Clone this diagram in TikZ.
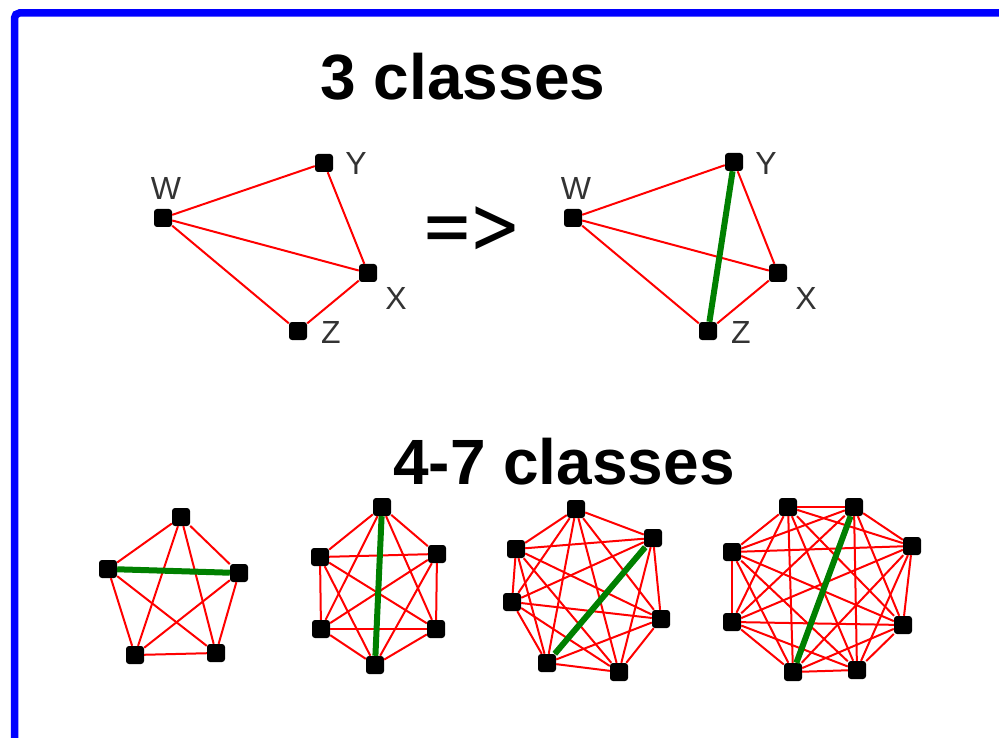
\documentclass[tikz,border=0pt]{standalone}
\usepackage{fontspec}
\setmainfont{Liberation Sans}
\newfontfamily\arrowfont{DejaVu Sans}
\usetikzlibrary{positioning}
\definecolor{edgered}{RGB}{255,0,0}
\definecolor{pairgreen}{RGB}{0,128,0}
\definecolor{frameblue}{RGB}{0,0,255}
\definecolor{labelgray}{RGB}{51,51,51}

\begin{document}
\begin{tikzpicture}[x=1pt, y=-1pt, main/.style = {rectangle, rounded corners=3pt, fill=black, minimum size=18pt, inner sep=0pt}, lbl/.style = {text=labelgray, font=\fontsize{32}{36}\selectfont, inner sep=0pt}, title/.style = {font=\fontsize{64}{70}\selectfont\bfseries, inner sep=0pt}, every edge/.append style={draw=edgered, line width=2pt}, pair/.style={draw=pairgreen, line width=6pt}]

\clip (0,0) rectangle (999,738);
\useasboundingbox (0,0) rectangle (999,738);
\draw[frameblue, line width=7.5pt, rounded corners=5pt] (14.5,760) -- (14.5,13) -- (1020,13);

\node[title] (t3) at (463,76.5) {3 classes};
\node[title] (t47) at (564,462) {4-7 classes};

% before
\node[main] (w1) at (163,218) {};
\node[main] (y1) at (324,163) {};
\node[main] (x1) at (368,273) {};
\node[main] (z1) at (298,331) {};
\node[lbl] at (166,188) {W};
\node[lbl] at (356,163) {Y};
\node[lbl] at (396,298) {X};
\node[lbl] at (331,332) {Z};

\path
    (w1) edge (y1)
    (w1) edge (x1)
    (w1) edge (z1)
    (y1) edge (x1)
    (x1) edge (z1);

\node (imp) at (471,230) {\arrowfont\fontsize{62}{70}\selectfont\scalebox{1}[1.3]{=\kern-4pt>}};

% after
\node[main] (w2) at (573,218) {};
\node[main] (y2) at (734,162) {};
\node[main] (x2) at (778,273) {};
\node[main] (z2) at (708,331) {};
\node[lbl] at (576,188) {W};
\node[lbl] at (766,163) {Y};
\node[lbl] at (806,298) {X};
\node[lbl] at (741,332) {Z};

\path
    (w2) edge (y2)
    (w2) edge (x2)
    (w2) edge (z2)
    (y2) edge (x2)
    (x2) edge (z2);
\draw[pair] (y2) -- (z2);

% complete graphs
\foreach \n/\p in {1/{(181,517)}, 2/{(108,569)}, 3/{(239,573)}, 4/{(135,655)}, 5/{(216,653)}}
    \node[main] (a\n) at \p {};
\foreach \n/\p in {1/{(382,507)}, 2/{(320,557)}, 3/{(437,554)}, 4/{(321,629)}, 5/{(436,629)}, 6/{(375,665)}}
    \node[main] (b\n) at \p {};
\foreach \n/\p in {1/{(576,509)}, 2/{(516,549)}, 3/{(653,538)}, 4/{(512,602)}, 5/{(661,619)}, 6/{(547,663)}, 7/{(619,672)}}
    \node[main] (c\n) at \p {};
\foreach \n/\p in {1/{(788,507)}, 2/{(854,507)}, 3/{(732,552)}, 4/{(912,546)}, 5/{(732,622)}, 6/{(903,625)}, 7/{(793,672)}, 8/{(857,670)}}
    \node[main] (d\n) at \p {};

\foreach \i [evaluate=\i as \k using int(\i+1)] in {1,...,4}
    \foreach \j in {\k,...,5}
        \path (a\i) edge (a\j);
\foreach \i [evaluate=\i as \k using int(\i+1)] in {1,...,5}
    \foreach \j in {\k,...,6}
        \path (b\i) edge (b\j);
\foreach \i [evaluate=\i as \k using int(\i+1)] in {1,...,6}
    \foreach \j in {\k,...,7}
        \path (c\i) edge (c\j);
\foreach \i [evaluate=\i as \k using int(\i+1)] in {1,...,7}
    \foreach \j in {\k,...,8}
        \path (d\i) edge (d\j);

\draw[pair] (a2) -- (a3);
\draw[pair] (b1) -- (b6);
\draw[pair] (c3) -- (c6);
\draw[pair] (d2) -- (d7);
\end{tikzpicture}
\end{document}
